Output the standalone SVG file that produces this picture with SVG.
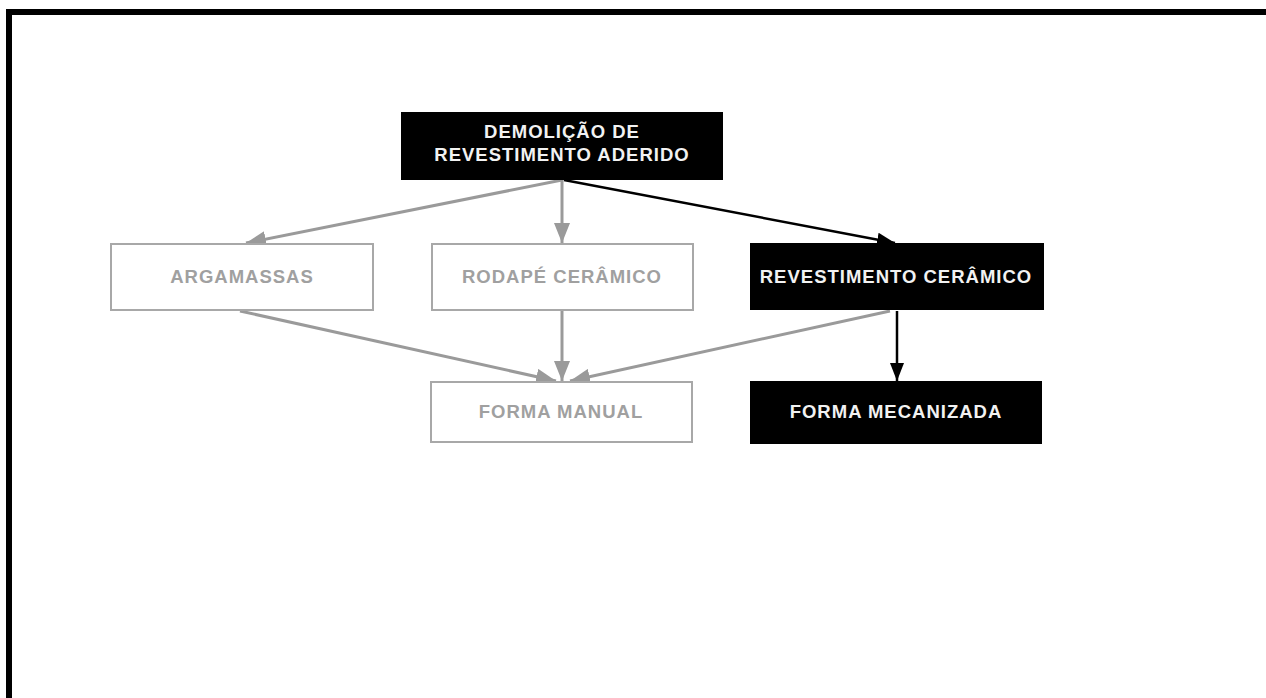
<svg xmlns="http://www.w3.org/2000/svg" width="1266" height="698" viewBox="0 0 1266 698">
<style>
.t{font-family:"Liberation Sans",Arial,sans-serif;font-weight:bold;font-size:18.5px;letter-spacing:1px;text-anchor:middle}
.dark rect{fill:#000;stroke:#000;stroke-width:2}
.dark text{fill:#f2f2f2}
.light rect{fill:#fff;stroke:#a8a8a8;stroke-width:2}
.light text{fill:#a0a0a0}
.cg{stroke:#9a9a9a;stroke-width:3;fill:none}
.cb{stroke:#000;stroke-width:2.5;fill:none}
</style>
<defs>
<marker id="mg" viewBox="0 0 20 16" refX="20" refY="8" markerWidth="20" markerHeight="16" markerUnits="userSpaceOnUse" orient="auto">
<path d="M0,0 L20,8 L0,16 z" fill="#9a9a9a"/>
</marker>
<marker id="mb" viewBox="0 0 18 14" refX="18" refY="7" markerWidth="18" markerHeight="14" markerUnits="userSpaceOnUse" orient="auto">
<path d="M0,0 L18,7 L0,14 z" fill="#000"/>
</marker>
</defs>
<rect x="0" y="0" width="1266" height="698" fill="#fff"/>
<path d="M9,698 V12 H1266" fill="none" stroke="#000" stroke-width="6"/>
<g id="connectors">
<line class="cg" x1="562" y1="180" x2="246" y2="243" marker-end="url(#mg)"/>
<line class="cg" x1="562" y1="180" x2="562" y2="243" marker-end="url(#mg)"/>
<line class="cb" x1="564" y1="180" x2="895" y2="243" marker-end="url(#mb)"/>
<line class="cg" x1="240" y1="311" x2="556" y2="381" marker-end="url(#mg)"/>
<line class="cg" x1="562" y1="311" x2="562" y2="381" marker-end="url(#mg)"/>
<line class="cg" x1="890" y1="311" x2="570" y2="381" marker-end="url(#mg)"/>
<line class="cb" x1="897" y1="311" x2="897" y2="381" marker-end="url(#mb)"/>
</g>
<g id="n-demolicao" class="dark">
<rect x="402" y="113" width="320" height="66"/>
<text class="t" x="562" y="138">DEMOLIÇÃO DE</text>
<text class="t" x="562" y="161">REVESTIMENTO ADERIDO</text>
</g>
<g id="n-argamassas" class="light">
<rect x="111" y="244" width="262" height="66"/>
<text class="t" x="242" y="283">ARGAMASSAS</text>
</g>
<g id="n-rodape" class="light">
<rect x="432" y="244" width="261" height="66"/>
<text class="t" x="562" y="283">RODAPÉ CERÂMICO</text>
</g>
<g id="n-revestimento" class="dark">
<rect x="751" y="244" width="292" height="65"/>
<text class="t" x="896" y="283">REVESTIMENTO CERÂMICO</text>
</g>
<g id="n-manual" class="light">
<rect x="431" y="382" width="261" height="60"/>
<text class="t" x="561" y="418">FORMA MANUAL</text>
</g>
<g id="n-mecanizada" class="dark">
<rect x="751" y="382" width="290" height="61"/>
<text class="t" x="896" y="418">FORMA MECANIZADA</text>
</g>
</svg>
